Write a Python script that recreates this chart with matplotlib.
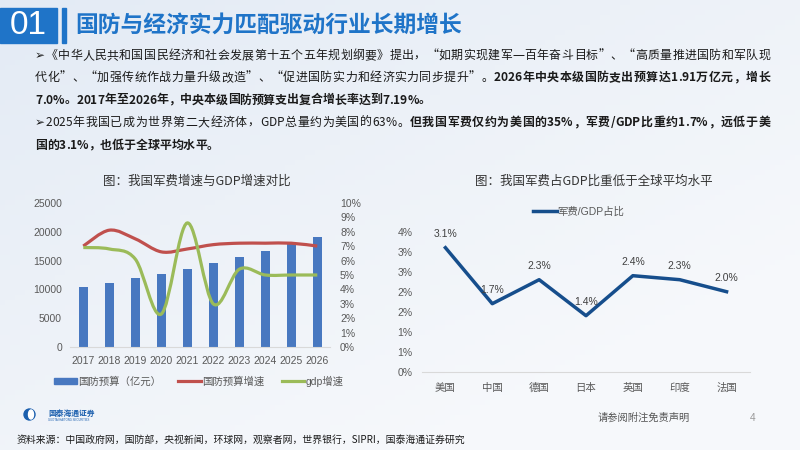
import numpy as np
import matplotlib
matplotlib.use("Agg")
import matplotlib.pyplot as plt
from matplotlib.path import Path
from matplotlib.patches import PathPatch, Rectangle, Ellipse
from matplotlib.lines import Line2D
from matplotlib.font_manager import FontProperties

plt.rcParams['font.family'] = ['Liberation Sans', 'Noto Sans CJK SC', 'DejaVu Sans']

# 数据
years = ['2017', '2018', '2019', '2020', '2021', '2022', '2023', '2024', '2025', '2026']
budget = [10444, 11070, 11899, 12680, 13553, 14505, 15537, 16655, 17847, 19100]
budget_growth = [7.0, 8.1, 7.5, 6.6, 6.8, 7.1, 7.2, 7.2, 7.2, 7.0]
gdp_growth = [6.9, 6.8, 6.1, 2.3, 8.6, 3.0, 5.4, 5.0, 5.0, 5.0]

countries = ['美国', '中国', '德国', '日本', '英国', '印度', '法国']
mil_gdp = [3.1, 1.7, 2.3, 1.4, 2.4, 2.3, 2.0]

TITLE = '国防与经济实力匹配驱动行业长期增长'
BODY = [
    ([('➢《中华人民共和国国民经济和社会发展第十五个五年规划纲要》提出，“如期实现建军一百年奋斗目标”、“高质量推进国防和军队现', False)], True),
    ([('代化”、“加强传统作战力量升级改造”、“促进国防实力和经济实力同步提升”。', False),
      ('2026年中央本级国防支出预算达1.91万亿元，增长', True)], True),
    ([('7.0%。2017年至2026年，中央本级国防预算支出复合增长率达到7.19%。', True)], False),
    ([('➢2025年我国已成为世界第二大经济体，GDP总量约为美国的63%。', False),
      ('但我国军费仅约为美国的35%，军费/GDP比重约1.7%，远低于美', True)], True),
    ([('国的3.1%，也低于全球平均水平。', True)], False),
]
BODY_BASELINES = [59, 81, 103.5, 126, 148.5]
SOURCE = '资料来源：中国政府网，国防部，央视新闻，环球网，观察者网，世界银行，SIPRI，国泰海通证券研究'

BLUE = '#4878C0'
RED = '#C0504D'
GREEN = '#9BBB59'
NAVY = '#164E8C'
HEAD = '#1F74C8'
GRAY = '#595959'

W, H = 800, 450
fig = plt.figure(figsize=(8, 4.5), dpi=100)


def fx(px):
    return px / W


def fy(py):
    return 1 - py / H


# 背景渐变
bg = fig.add_axes([0, 0, 1, 1], zorder=-5)
gx = np.linspace(0, 1, 160)[None, :]
gy = np.linspace(0, 1, 90)[:, None]
c0 = np.array([0.89, 0.92, 0.96])
c1 = np.array([0.965, 0.973, 0.985])
t = np.clip(0.6 * gx + 0.7 * gy, 0, 1)[..., None]
bg.imshow(c0 * (1 - t) + c1 * t, extent=[0, 1, 0, 1], aspect='auto')
bg.axis('off')

# 标题栏
fig.add_artist(Rectangle((0, fy(43)), fx(57), 35 / H, transform=fig.transFigure, color=HEAD))
fig.add_artist(Rectangle((fx(62), fy(43)), fx(4), 35 / H, transform=fig.transFigure, color=HEAD))
fig.text(fx(28), fy(26), '01', color='white', fontsize=24, ha='center', va='center',
         family='Liberation Sans')
fig.text(fx(75), fy(25), TITLE, color=HEAD, fontsize=16.4, ha='left', va='center',
         family='Noto Sans CJK SC', weight='bold')

# 正文，逐字排版以便两端对齐
renderer = fig.canvas.get_renderer()
body_fs = 8.6
props = {b: FontProperties(family=['Noto Sans CJK SC', 'DejaVu Sans'], size=body_fs,
                           weight='bold' if b else 'normal') for b in (False, True)}


def adv(ch, bold):
    p = props[bold]
    w1 = renderer.get_text_width_height_descent('H' + ch + 'H', p, ismath=False)[0]
    w0 = renderer.get_text_width_height_descent('HH', p, ismath=False)[0]
    return w1 - w0


def is_cjk(c):
    return ord(c) > 0x2000


x_left, x_right = 35, 770
for (runs, justify), base in zip(BODY, BODY_BASELINES):
    chars = [(c, b) for s, b in runs for c in s]
    widths = [adv(c, b) for c, b in chars]
    gaps = [is_cjk(chars[i][0]) or is_cjk(chars[i + 1][0]) for i in range(len(chars) - 1)]
    gaps.append(False)
    extra = 0
    if justify:
        extra = (x_right - x_left - sum(widths)) / sum(gaps)
    xp = x_left
    for (c, b), w, g in zip(chars, widths, gaps):
        fig.text(fx(xp), fy(base), c, fontproperties=props[b], color='#1a1a1a',
                 ha='left', va='baseline')
        xp += w + (extra if g else 0)


def smooth_path(xs, ys):
    pts = np.column_stack([xs, ys]).astype(float)
    n = len(pts)
    verts = [pts[0]]
    codes = [Path.MOVETO]
    for i in range(n - 1):
        p0, p1, p2, p3 = pts[max(i - 1, 0)], pts[i], pts[i + 1], pts[min(i + 2, n - 1)]
        verts += [p1 + (p2 - p0) / 6, p2 - (p3 - p1) / 6, p2]
        codes += [Path.CURVE4] * 3
    return Path(verts, codes)


# 左图
ax = fig.add_axes([fx(70.3), fy(347.3), 260 / W, 144.6 / H])
ax.set_facecolor('none')
x = np.arange(len(years))
ax.bar(x, budget, width=0.33, color=BLUE)
ax.set_xlim(-0.5, len(years) - 0.5)
ax.set_ylim(0, 25000)
ax.set_yticks(range(0, 25001, 5000))
ax.set_xticks(x, years)
ax.tick_params(length=0, labelsize=7.5, colors=GRAY)
ax.tick_params(axis='y', pad=6)
ax.tick_params(axis='x', pad=6)
for s in ['top', 'right', 'left']:
    ax.spines[s].set_visible(False)
ax.spines['bottom'].set_color('#D9D9D9')

ax2 = ax.twinx()
ax2.set_ylim(0, 10)
ax2.set_yticks(range(11))
ax2.set_yticklabels([f'{v}%' for v in range(11)])
ax2.tick_params(length=0, labelsize=7.5, colors=GRAY, pad=7)
for s in ax2.spines.values():
    s.set_visible(False)
ax2.add_patch(PathPatch(smooth_path(x, budget_growth), fill=False, ec=RED, lw=2.3))
ax2.add_patch(PathPatch(smooth_path(x, gdp_growth), fill=False, ec=GREEN, lw=2.3))

fig.text(fx(197), fy(181), '图：我国军费增速与GDP增速对比', fontsize=9, color='#333333',
         ha='center', va='center', family='Noto Sans CJK SC')
handles = [Rectangle((0, 0), 1, 1, color=BLUE),
           Line2D([], [], color=RED, lw=2.3),
           Line2D([], [], color=GREEN, lw=2.3)]
fig.legend(handles, ['国防预算（亿元）', '国防预算增速', 'gdp增速'], ncol=3, frameon=False,
           loc='center', bbox_to_anchor=(fx(199), fy(381)), fontsize=7.5,
           handlelength=2.2, handleheight=0.5, handletextpad=0.15, columnspacing=1.6,
           labelcolor=GRAY)

# 右图
ax3 = fig.add_axes([fx(422), fy(371.7), 328 / W, 140 / H])
ax3.set_facecolor('none')
cx = np.arange(len(countries))
ax3.plot(cx, mil_gdp, color=NAVY, lw=2.5, label='军费/GDP占比')
ax3.set_xlim(-0.5, len(countries) - 0.5)
ax3.set_ylim(0, 3.5)
yt = np.arange(0, 3.51, 0.5)
ax3.set_yticks(yt)
ax3.set_yticklabels([f'{int(v + 0.5)}%' for v in yt])
ax3.set_xticks(cx, countries)
ax3.tick_params(length=0, labelsize=7.5, colors=GRAY)
ax3.tick_params(axis='y', pad=7)
ax3.tick_params(axis='x', pad=8)
for s in ['top', 'right', 'left']:
    ax3.spines[s].set_visible(False)
ax3.spines['bottom'].set_color('#D9D9D9')
for i, v in enumerate(mil_gdp):
    ax3.annotate(f'{v:.1f}%', (i, v), xytext=(0, 9.6), textcoords='offset points',
                 ha='center', va='center', fontsize=7.5, color='#404040')
ax3.legend(loc='center', bbox_to_anchor=(fx(578.5), fy(211.7)),
           bbox_transform=fig.transFigure, frameon=False, fontsize=7.5,
           handlelength=2.3, handletextpad=0.1, labelcolor=GRAY)
fig.text(fx(593.5), fy(181), '图：我国军费占GDP比重低于全球平均水平', fontsize=9,
         color='#333333', ha='center', va='center', family='Noto Sans CJK SC')

# 页脚
fig.add_artist(Ellipse((fx(29.5), fy(414.5)), 11 / W, 11 / H, transform=fig.transFigure,
                       color='#1B5FAE'))
fig.add_artist(Ellipse((fx(31), fy(414.5)), 5 / W, 9 / H, transform=fig.transFigure,
                       color='white'))
fig.text(fx(48), fy(413), '国泰海通证券', fontsize=5.6, color='#1B5FAE', weight='bold',
         family='Noto Sans CJK SC', va='center')
fig.text(fx(48), fy(420), 'GUOTAI HAITONG SECURITIES', fontsize=2, color='#1B5FAE', va='center')
fig.text(fx(17), fy(440), SOURCE, fontsize=7.1, color='#1a1a1a', va='center',
         family='Noto Sans CJK SC')
fig.text(fx(598), fy(418), '请参阅附注免责声明', fontsize=7.4, color='#555555', va='center',
         family='Noto Sans CJK SC')
fig.text(fx(750), fy(418), '4', fontsize=7.4, color='#999999', va='center')

fig.savefig('out.png', dpi=100)
